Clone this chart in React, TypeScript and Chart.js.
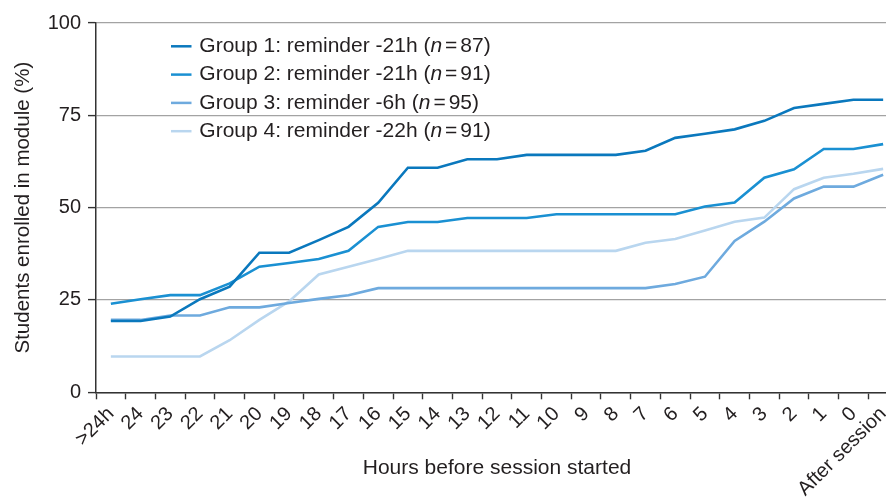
import React, { useEffect, useRef } from "react";
import { Chart, registerables } from "chart.js";

Chart.register(...registerables);

const HOUR_LABELS = [">24h", "24", "23", "22", "21", "20", "19", "18", "17", "16", "15", "14", "13", "12", "11", "10", "9", "8", "7", "6", "5", "4", "3", "2", "1", "0", "After session"];

const GROUP1 = [19.3, 19.3, 20.5, 25.2, 28.6, 37.8, 37.8, 41.2, 44.8, 51.3, 60.8, 60.8, 63.1, 63.1, 64.3, 64.3, 64.3, 64.3, 65.4, 68.9, 70.0, 71.2, 73.5, 77.0, 78.1, 79.2, 79.2];
const GROUP2 = [24.0, 25.2, 26.3, 26.3, 29.5, 34.0, 35.0, 36.1, 38.3, 44.8, 46.1, 46.1, 47.2, 47.2, 47.2, 48.2, 48.2, 48.2, 48.2, 48.2, 50.3, 51.4, 58.1, 60.4, 65.9, 65.9, 67.2];
const GROUP3 = [19.6, 19.6, 20.8, 20.8, 23.0, 23.0, 24.2, 25.3, 26.3, 28.2, 28.2, 28.2, 28.2, 28.2, 28.2, 28.2, 28.2, 28.2, 28.2, 29.3, 31.3, 41.0, 46.2, 52.5, 55.7, 55.7, 58.9];
const GROUP4 = [9.7, 9.7, 9.7, 9.7, 14.1, 19.6, 24.6, 31.9, 34.0, 36.1, 38.3, 38.3, 38.3, 38.3, 38.3, 38.3, 38.3, 38.3, 40.5, 41.5, 43.8, 46.2, 47.3, 55.0, 58.1, 59.2, 60.5];

const GROUP_LABELS = ["Group 1: reminder -21h", "Group 2: reminder -21h", "Group 3: reminder -6h", "Group 4: reminder -22h"];
const GROUP_N = [87, 91, 95, 91];
const GROUP_COLORS = ["#0a78bd", "#1a90d2", "#6eaade", "#b9d6ef"];

const Y_TICKS = [0, 25, 50, 75, 100];

const FONT = "'Liberation Sans', Arial, Helvetica, sans-serif";
const TEXT = "#231f20";

const legendPlugin = {
  id: "customLegend",
  afterDraw(chart: any) {
    const ctx = chart.ctx;
    const area = chart.chartArea;
    const x0 = area.left + 75;
    const y0 = area.top + 23.3;
    const step = 28.3;
    ctx.save();
    chart.data.datasets.forEach((ds: any, i: number) => {
      const y = y0 + i * step;
      ctx.strokeStyle = ds.borderColor;
      ctx.lineWidth = 2.5;
      ctx.beginPath();
      ctx.moveTo(x0, y);
      ctx.lineTo(x0 + 20.5, y);
      ctx.stroke();
      ctx.fillStyle = TEXT;
      ctx.textBaseline = "middle";
      ctx.textAlign = "left";
      let x = x0 + 28.3;
      const normal = `21px ${FONT}`;
      const italic = `italic 21px ${FONT}`;
      const parts: [string, string, number][] = [
        [GROUP_LABELS[i] + " (", normal, 0],
        ["n", italic, 3],
        ["=", normal, 3],
        [String(GROUP_N[i]) + ")", normal, 0],
      ];
      parts.forEach(([t, f, gap]) => {
        ctx.font = f;
        ctx.fillText(t, x, y);
        x += ctx.measureText(t).width + gap;
      });
    });
    ctx.restore();
  },
};

export default function App() {
  const ref = useRef<HTMLCanvasElement | null>(null);

  useEffect(() => {
    if (!ref.current) return;
    const chart = new Chart(ref.current, {
      type: "line",
      data: {
        labels: HOUR_LABELS,
        datasets: [GROUP1, GROUP2, GROUP3, GROUP4].map((d, i) => ({
          label: `${GROUP_LABELS[i]} (n = ${GROUP_N[i]})`,
          data: d,
          borderColor: GROUP_COLORS[i],
          backgroundColor: GROUP_COLORS[i],
          borderWidth: 2.6,
          pointRadius: 0,
          pointHoverRadius: 0,
          tension: 0,
          fill: false,
        })),
      },
      options: {
        animation: false,
        responsive: false,
        devicePixelRatio: 1,
        layout: { padding: { left: 0, top: 23, right: 22, bottom: 0 } },
        plugins: {
          legend: { display: false },
          tooltip: { enabled: false },
        },
        scales: {
          x: {
            type: "category",
            offset: true,
            grid: {
              offset: true,
              drawOnChartArea: false,
              drawTicks: true,
              tickLength: 7,
              tickColor: "#333",
              tickWidth: 1.4,
            },
            border: { display: true, color: "#333", width: 1.5 },
            ticks: {
              autoSkip: false,
              minRotation: 45,
              maxRotation: 45,
              padding: 3,
              color: TEXT,
              font: { family: FONT, size: 20 },
            },
            title: {
              display: true,
              text: "Hours before session started",
              color: TEXT,
              font: { family: FONT, size: 21 },
              padding: { top: 0, bottom: 16 },
            },
            afterFit: (scale: any) => {
              scale.height = 104.7;
            },
          },
          y: {
            min: 0,
            max: 100,
            afterBuildTicks: (scale: any) => {
              scale.ticks = Y_TICKS.map((v) => ({ value: v }));
            },
            grid: {
              color: "#a3a3a3",
              lineWidth: 1.2,
              drawTicks: true,
              tickLength: 8,
              tickColor: "#333",
              tickWidth: 1.4,
            },
            border: { display: true, color: "#333", width: 1.5 },
            ticks: {
              padding: 7,
              color: TEXT,
              font: { family: FONT, size: 20 },
            },
            title: {
              display: true,
              text: "Students enrolled in module (%)",
              color: TEXT,
              font: { family: FONT, size: 20.5 },
              padding: { top: 10.7, bottom: 0 },
            },
            afterFit: (scale: any) => {
              scale.width = 96;
            },
          },
        },
      },
      plugins: [legendPlugin],
    });
    return () => chart.destroy();
  }, []);

  return (
    <div
      style={{
        position: "fixed",
        left: 0,
        top: 0,
        width: 886,
        height: 497,
        overflow: "hidden",
        background: "#fff",
      }}
    >
      <canvas ref={ref} width={920} height={497} style={{ display: "block" }} />
    </div>
  );
}
